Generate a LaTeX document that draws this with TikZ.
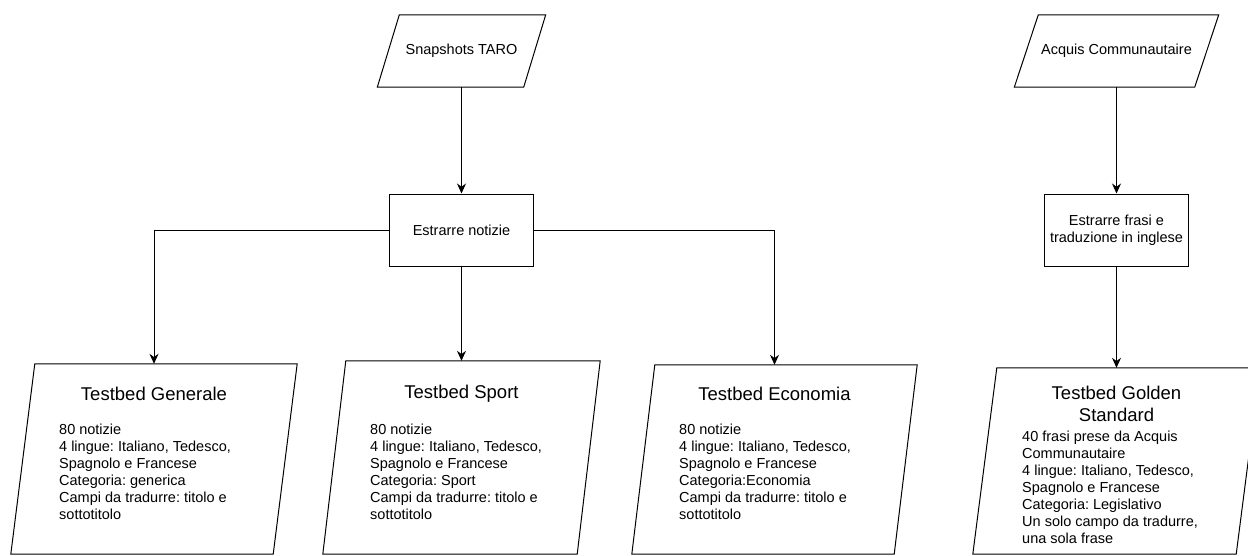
\documentclass[tikz,border=0pt]{standalone}
\usepackage{fontspec}
\setmainfont{Liberation Sans}
\frenchspacing
\usetikzlibrary{arrows.meta, positioning}

\begin{document}
\begin{tikzpicture}[
                x=1pt, y=-1pt,
                every node/.style={inner sep=0pt, font=\fontsize{14.5}{17}\selectfont},
                proc/.style={draw, line width=1pt, minimum width=144pt, minimum height=72pt, align=center},
                io/.style={minimum height=72pt, align=center},
                testbed/.style={minimum height=190pt},
                ttl/.style={font=\fontsize{18.5}{22}\selectfont, align=center},
                body/.style={anchor=north west, align=left},
                arr/.style={-{Stealth[length=10pt,width=9pt]}, line width=1pt}
            ]

            \useasboundingbox (0,0) rectangle (1248,555);
            \clip (0,0) rectangle (1248,555);

            % Sorgenti
            \node[io, minimum width=168pt] (taro) at (461.5,51) {Snapshots TARO};
            \node[io, minimum width=204pt] (acquis) at (1116.5,51) {Acquis Communautaire};

            % Estrazione
            \node[proc] (estnot) at (461.5,230) {Estrarre notizie};
            \node[proc] (estfra) at (1116.5,230) {Estrarre frasi e\\traduzione in inglese};

            % Testbed
            \node[testbed, minimum width=286pt] (gen) at (154,459) {};
            \node[testbed, minimum width=277pt, minimum height=193pt] (sport) at (461.5,457.5) {};
            \node[testbed, minimum width=285pt, minimum height=189pt] (eco) at (774.5,459.5) {};
            \node[testbed, minimum width=287pt, minimum height=186pt] (gold) at (1116.5,461) {};

            % Contenuto dei testbed
            \node[ttl] (gentitle) at (154,394) {Testbed Generale};
            \node[body] (gentext) at (59,423.5) {80 notizie\\4 lingue: Italiano, Tedesco,\\Spagnolo e Francese\\Categoria: generica\\Campi da tradurre: titolo e\\sottotitolo};
            \node[ttl] (sporttitle) at (461.5,394) {Testbed Sport};
            \node[body] (sporttext) at (370,423.5) {80 notizie\\4 lingue: Italiano, Tedesco,\\Spagnolo e Francese\\Categoria: Sport\\Campi da tradurre: titolo e\\sottotitolo};
            \node[ttl] (ecotitle) at (774.5,394) {Testbed Economia};
            \node[body] (ecotext) at (679,423.5) {80 notizie\\4 lingue: Italiano, Tedesco,\\Spagnolo e Francese\\Categoria:Economia\\Campi da tradurre: titolo e\\sottotitolo};
            \node[ttl] (goldtitle) at (1116.5,404) {Testbed Golden\\Standard};
            \node[body] (goldtext) at (1022,430.5) {40 frasi prese da Acquis\\Communautaire\\4 lingue: Italiano, Tedesco,\\Spagnolo e Francese\\Categoria: Legislativo\\Un solo campo da tradurre,\\una sola frase};

            % Parallelogrammi
            \foreach \n/\s in {taro/22, acquis/24, gen/24, sport/23, eco/23, gold/24}
                \draw[line width=1pt] ([xshift=\s pt]\n.north west) -- (\n.north east)
                    -- ([xshift=-\s pt]\n.south east) -- (\n.south west) -- cycle;

            % Frecce
            \draw[arr] (taro) -- (estnot);
            \draw[arr] (acquis) -- (estfra);
            \draw[arr] (estnot.west) -| (gen.north);
            \draw[arr] (estnot) -- (sport);
            \draw[arr] (estnot.east) -| (eco.north);
            \draw[arr] (estfra) -- (gold);

        \end{tikzpicture}
\end{document}
